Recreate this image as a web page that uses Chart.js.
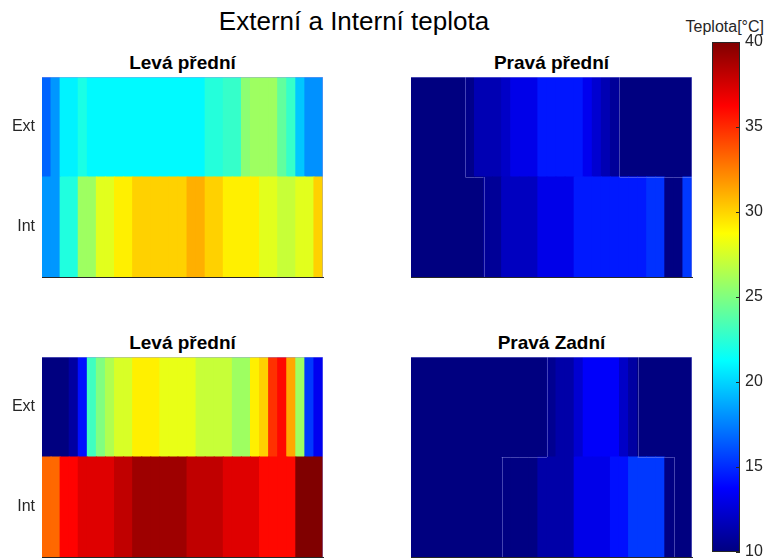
<!DOCTYPE html>
<html>
<head>
<meta charset="utf-8">
<script src="https://cdn.jsdelivr.net/npm/chart.js@4.4.1/dist/chart.umd.min.js"></script>
<style>
  html, body { margin:0; padding:0; background:#fff; }
  #wrap { position:relative; width:766px; height:558px; overflow:hidden; background:#fff;
          font-family:'Liberation Sans', Arial, sans-serif; }
  canvas { position:absolute; }
  .t { position:absolute; text-align:center; white-space:nowrap; line-height:1; }
</style>
</head>
<body>
<div id="wrap">
  <div class="t" id="mainTitle" style="left:0;width:708px;top:8px;font-size:26px;color:#000;"></div>
  <div class="t" id="t0" style="left:42px;width:281px;top:53px;font-size:19px;font-weight:bold;color:#000;"></div>
  <div class="t" id="t1" style="left:411px;width:281px;top:53px;font-size:19px;font-weight:bold;color:#000;"></div>
  <div class="t" id="t2" style="left:42px;width:281px;top:333px;font-size:19px;font-weight:bold;color:#000;"></div>
  <div class="t" id="t3" style="left:411px;width:281px;top:333px;font-size:19px;font-weight:bold;color:#000;"></div>
  <div class="t" id="cbLabel" style="right:2px;top:19px;font-size:16px;color:#262626;"></div>
  <canvas id="c0" width="324" height="203" style="left:0px;top:76px;"></canvas>
  <canvas id="c1" width="284" height="203" style="left:409px;top:76px;"></canvas>
  <canvas id="c2" width="324" height="203" style="left:0px;top:356px;"></canvas>
  <canvas id="c3" width="284" height="203" style="left:409px;top:356px;"></canvas>
  <canvas id="cb" width="66" height="528" style="left:700px;top:30px;"></canvas>
</div>
<script>
// ---------------- data ----------------
const hlavniNazev = 'Externí a Interní teplota';
const nazvyGrafu = ['Levá přední', 'Pravá přední', 'Levá přední', 'Pravá Zadní'];
const radky = ['Ext', 'Int'];
const casy = ['1','2','3','4','5','6','7','8','9','10','11','12','13','14','15','16',
              '17','18','19','20','21','22','23','24','25','26','27','28','29','30','31'];
const popisBarvy = 'Teplota[°C]';
const teplotaTicks = [10, 15, 20, 25, 30, 35, 40];
const CMIN = 10, CMAX = 40;

// Levá přední (top-left)
const lpExt = [16.7, 18.2, 20.9, 20.9, 22.0, 21.1, 21.1, 21.1, 21.1, 21.1, 21.1, 21.1, 21.1, 21.1, 21.1, 21.1,
               21.1, 21.1, 22.3, 22.3, 22.8, 22.8, 25.4, 25.9, 25.9, 25.9, 24.1, 22.8, 19.6, 18.0, 18.0];
const lpInt = [18.2, 18.2, 22.2, 22.2, 25.9, 25.9, 27.9, 27.9, 29.2, 29.2, 30.1, 30.1, 30.1, 30.1, 30.1, 30.1,
               31.1, 31.1, 30.1, 30.1, 29.2, 29.2, 29.2, 29.2, 27.9, 27.9, 27.1, 27.1, 27.9, 27.9, 30.1];
// Pravá přední (top-right)
const ppExt = [8, 8, 8, 8, 8, 8, 10.3, 11.5, 11.5, 11.5, 12.1, 13.1, 13.1, 13.1, 14.4, 14.4,
               14.4, 14.4, 14.4, 13.3, 12.4, 11.5, 10.75, 8, 8, 8, 8, 8, 8, 8, 8];
const ppInt = [8, 8, 8, 8, 8, 8, 8, 8, 10.7, 10.7, 11.9, 11.9, 11.9, 11.9, 13.1, 13.1,
               13.1, 13.1, 14.5, 14.5, 14.5, 14.5, 14.5, 14.5, 14.5, 14.5, 15.2, 15.2, 10.1, 10.1, 15.4];
// Levá přední (bottom-left)
const lp2Ext = [10.0, 10.0, 10.0, 11.0, 14.2, 23.1, 25.0, 26.4, 27.6, 27.6, 29.2, 29.2, 29.2, 28.1, 28.1, 28.1,
                28.1, 27.1, 27.1, 27.1, 27.1, 25.9, 25.9, 29.2, 30.1, 34.8, 36.0, 31.3, 25.9, 15.4, 13.3];
const lp2Int = [33.2, 33.2, 36.2, 36.2, 37.2, 37.2, 37.2, 37.2, 38.1, 38.1, 39.1, 39.1, 39.1, 39.1, 39.1, 39.1,
                38.1, 38.1, 38.1, 38.1, 37.2, 37.2, 37.2, 37.2, 36.0, 36.0, 36.0, 36.0, 40.0, 40.0, 40.0];
// Pravá Zadní (bottom-right)
const pzExt = [8, 8, 8, 8, 8, 8, 8, 8, 8, 8, 8, 8, 8, 8, 8, 10.5,
               11.2, 11.2, 12.4, 13.6, 13.6, 13.6, 13.6, 12.1, 11.0, 8, 8, 8, 8, 8, 8];
const pzInt = [8, 8, 8, 8, 8, 8, 8, 8, 8, 8, 10.1, 10.1, 10.1, 10.1, 11.2, 11.2,
               11.2, 11.2, 13.1, 13.1, 13.1, 13.1, 14.2, 14.2, 15.4, 15.4, 15.4, 15.4, 10.1, 8, 8];

// ---------------- helpers ----------------
const FONT = "'Liberation Sans', Arial, sans-serif";
const AXIS_COLOR = '#262626';

function jet(v) {
  let t = (v - CMIN) / (CMAX - CMIN);
  t = Math.max(0, Math.min(1, t));
  const c = x => Math.round(255 * Math.max(0, Math.min(1, x)));
  const r = c(Math.min(4 * t - 1.5, -4 * t + 4.5));
  const g = c(Math.min(4 * t - 0.5, -4 * t + 3.5));
  const b = c(Math.min(4 * t + 0.5, -4 * t + 2.5));
  return `rgb(${r},${g},${b})`;
}

// outlines the boundary between in-range and below-range cells, plus top/right edges
const outlinePlugin = {
  id: 'outline',
  afterDatasetsDraw(chart) {
    const x = chart.scales.x, y = chart.scales.y;
    const ds = chart.data.datasets;
    const intV = ds[0].vals, extV = ds[1].vals;
    const n = intV.length;
    const w = x.getPixelForValue(1) - x.getPixelForValue(0);
    const edge = i => x.getPixelForValue(i) - w / 2;
    const yTop = y.getPixelForValue(2), yMid = y.getPixelForValue(1), yBot = y.getPixelForValue(0);
    const ctx = chart.ctx;
    ctx.save();
    ctx.strokeStyle = 'rgba(150,150,230,0.45)';
    ctx.lineWidth = 1;
    ctx.beginPath();
    const rows = [[extV, yTop, yMid], [intV, yMid, yBot]];
    rows.forEach(([vals, y0, y1]) => {
      for (let i = 1; i < n; i++) {
        if ((vals[i - 1] < CMIN) !== (vals[i] < CMIN)) {
          const xx = Math.round(edge(i)) + 0.5;
          ctx.moveTo(xx, y0); ctx.lineTo(xx, y1);
        }
      }
    });
    for (let i = 0; i < n; i++) {
      if ((extV[i] < CMIN) !== (intV[i] < CMIN)) {
        const yy = Math.round(yMid) + 0.5;
        ctx.moveTo(edge(i), yy); ctx.lineTo(edge(i + 1), yy);
      }
    }
    const a = chart.chartArea;
    ctx.moveTo(a.left, Math.round(a.top) + 0.5); ctx.lineTo(a.right, Math.round(a.top) + 0.5);
    ctx.moveTo(Math.round(a.right) - 0.5, a.top); ctx.lineTo(Math.round(a.right) - 0.5, a.bottom);
    ctx.stroke();
    ctx.restore();
  }
};

function heatmap(id, extVals, intVals, showLabels) {
  new Chart(document.getElementById(id), {
    type: 'bar',
    data: {
      labels: casy,
      datasets: [
        { label: radky[1], data: intVals.map(() => 1), backgroundColor: intVals.map(jet), vals: intVals },
        { label: radky[0], data: extVals.map(() => 1), backgroundColor: extVals.map(jet), vals: extVals }
      ]
    },
    options: {
      animation: false, responsive: false, events: [],
      layout: { padding: { top: 1, right: 1, left: showLabels ? 0 : 2, bottom: 0 } },
      datasets: { bar: { barPercentage: 1, categoryPercentage: 1, borderWidth: 0, inflateAmount: 0.5 } },
      plugins: { legend: { display: false }, tooltip: { enabled: false } },
      scales: {
        x: {
          stacked: true, z: 1,
          ticks: { display: false }, grid: { display: false, drawTicks: false },
          border: { display: true, color: AXIS_COLOR, width: 1 },
          afterFit(s) { s.height = 2; s.paddingLeft = 0; s.paddingRight = 0; }
        },
        y: {
          stacked: true, min: 0, max: 2, z: 1,
          afterBuildTicks(s) { s.ticks = [{ value: 1.5 }, { value: 0.5 }]; },
          ticks: {
            display: showLabels,
            callback: v => (v > 1 ? radky[0] : radky[1]),
            font: { size: 16, family: FONT }, color: AXIS_COLOR, padding: 7
          },
          grid: { display: false, drawTicks: false },
          border: { display: true, color: AXIS_COLOR, width: 1 },
          afterFit(s) { s.width = showLabels ? 42 : 0; s.paddingTop = 0; s.paddingBottom = 0; }
        }
      }
    },
    plugins: [outlinePlugin]
  });
}

document.getElementById('mainTitle').textContent = hlavniNazev;
nazvyGrafu.forEach((t, i) => { document.getElementById('t' + i).textContent = t; });
document.getElementById('cbLabel').textContent = popisBarvy;

heatmap('c0', lpExt, lpInt, true);
heatmap('c1', ppExt, ppInt, false);
heatmap('c2', lp2Ext, lp2Int, true);
heatmap('c3', pzExt, pzInt, false);

// ---------------- colorbar ----------------
const cbPlugin = {
  id: 'cbFrame',
  afterDraw(chart) {
    const a = chart.chartArea, y = chart.scales.y, ctx = chart.ctx;
    ctx.save();
    ctx.strokeStyle = AXIS_COLOR; ctx.lineWidth = 1;
    ctx.strokeRect(Math.round(a.left) + 0.5, Math.round(a.top) + 0.5,
                   Math.round(a.right - a.left) - 1, Math.round(a.bottom - a.top) - 1);
    ctx.beginPath();
    teplotaTicks.forEach(v => {
      const yy = Math.round(y.getPixelForValue(v)) + 0.5;
      ctx.moveTo(a.right - 4, yy); ctx.lineTo(a.right, yy);
    });
    ctx.stroke();
    ctx.restore();
  }
};

new Chart(document.getElementById('cb'), {
  type: 'bar',
  data: {
    labels: [''],
    datasets: [{
      data: [[CMIN, CMAX]],
      backgroundColor(ctx) {
        const ch = ctx.chart, a = ch.chartArea;
        if (!a) return null;
        const y = ch.scales.y;
        const g = ch.ctx.createLinearGradient(0, y.getPixelForValue(CMIN), 0, y.getPixelForValue(CMAX));
        for (let i = 0; i <= 64; i++) {
          g.addColorStop(i / 64, jet(CMIN + (CMAX - CMIN) * i / 64));
        }
        return g;
      },
      borderWidth: 0, barPercentage: 1, categoryPercentage: 1
    }]
  },
  options: {
    animation: false, responsive: false, events: [],
    layout: { padding: { left: 12, top: 12, bottom: 6, right: 0 } },
    plugins: { legend: { display: false }, tooltip: { enabled: false } },
    scales: {
      x: { display: false },
      y: {
        position: 'right', min: CMIN, max: CMAX, z: 1,
        afterBuildTicks(s) { s.ticks = teplotaTicks.map(v => ({ value: v })); },
        ticks: { font: { size: 16, family: FONT }, color: AXIS_COLOR, padding: 5 },
        grid: { display: false, drawTicks: false },
        border: { display: false },
        afterFit(s) { s.width = 26; s.paddingTop = 0; s.paddingBottom = 0; }
      }
    }
  },
  plugins: [cbPlugin]
});
</script>
</body>
</html>
